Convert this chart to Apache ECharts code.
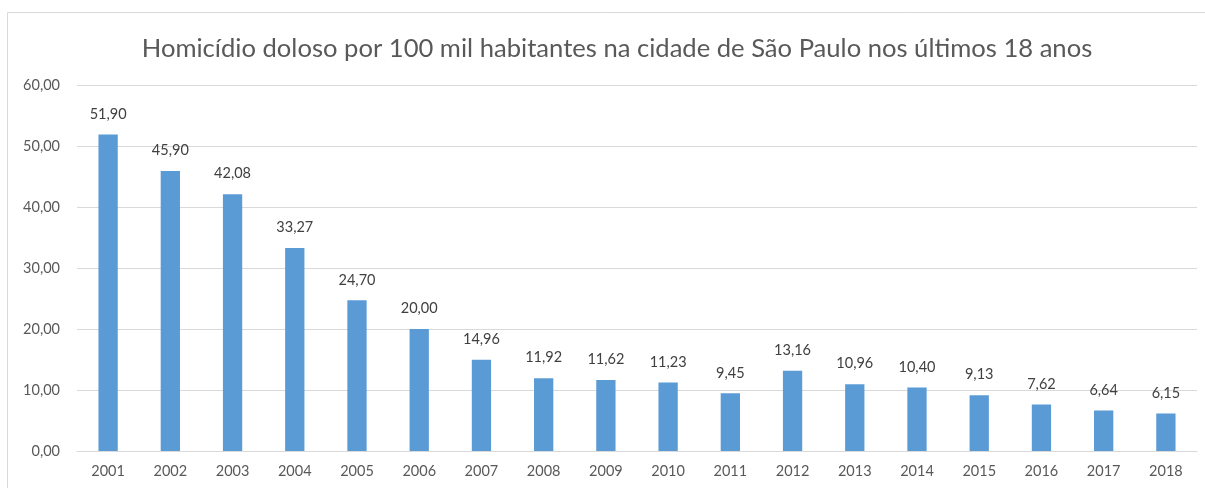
<!DOCTYPE html>
<html>
<head>
<meta charset="utf-8">
<script src="https://cdn.jsdelivr.net/npm/echarts@6/dist/echarts.min.js"></script>
<style>
html,body{margin:0;padding:0;background:#fff;}
#c{width:1205px;height:488px;}
</style>
</head>
<body>
<div id="c"></div>
<script>
const years = ['2001','2002','2003','2004','2005','2006','2007','2008','2009','2010','2011','2012','2013','2014','2015','2016','2017','2018'];
const rates = [51.90,45.90,42.08,33.27,24.70,20.00,14.96,11.92,11.62,11.23,9.45,13.16,10.96,10.40,9.13,7.62,6.64,6.15];
const titleText = 'Homicídio doloso por 100 mil habitantes na cidade de São Paulo nos últimos 18 anos';

const fmt = v => Number(v).toFixed(2).replace('.', ',');
const chart = echarts.init(document.getElementById('c'), null, {renderer:'canvas'});
chart.setOption({
  animation:false,
  backgroundColor:'#ffffff',
  textStyle:{fontFamily:'Lato'},
  graphic:[{type:'rect',shape:{x:7.5,y:12.5,width:1220,height:500},style:{fill:'none',stroke:'#d9d9d9',lineWidth:1},silent:true}],
  title:{text:titleText,left:612,top:31,textAlign:'center',textStyle:{fontFamily:'Lato',fontSize:25.6,fontWeight:'normal',color:'#595959'}},
  grid:{left:77,right:8,top:85,bottom:37,containLabel:false},
  xAxis:{type:'category',data:years,
    axisLine:{lineStyle:{color:'#d9d9d9'}},axisTick:{show:false},
    axisLabel:{color:'#595959',fontSize:14.5,margin:13,fontFamily:'Lato'}},
  yAxis:{type:'value',min:0,max:60,interval:10,
    axisLine:{show:false},axisTick:{show:false},
    splitLine:{lineStyle:{color:'#d9d9d9'}},
    axisLabel:{color:'#595959',fontSize:14.5,margin:17,formatter:fmt,fontFamily:'Lato'}},
  series:[{type:'bar',data:rates,barWidth:'31%',
    itemStyle:{color:'#5b9bd5'},
    label:{show:true,position:'top',distance:13,color:'#404040',fontSize:14.5,fontFamily:'Lato',formatter:p=>fmt(p.value)}}]
});
</script>
</body>
</html>
